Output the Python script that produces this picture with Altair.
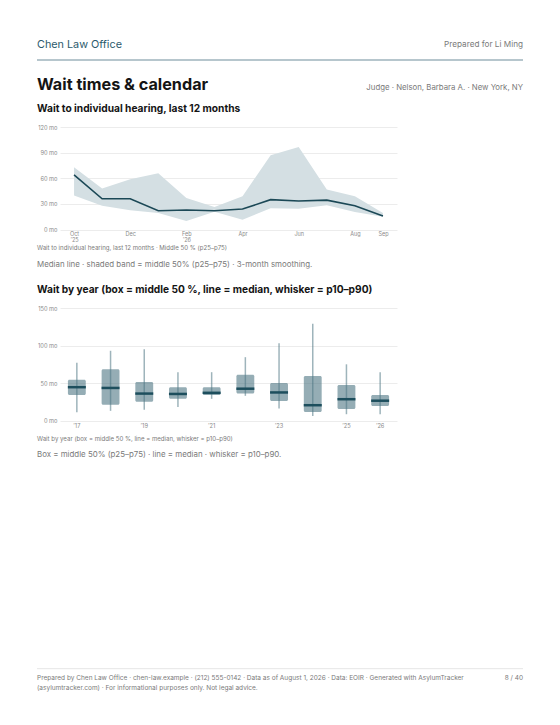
import altair as alt
import pandas as pd

# ---------------- data ----------------
months = ["Oct", "Nov", "Dec", "Jan", "Feb", "Mar", "Apr", "May", "Jun", "Jul", "Aug", "Sep"]
median_wait = [64, 36, 36, 22, 23, 22, 24, 35, 33.5, 34.5, 28, 16]
p25_wait = [40, 28, 22.5, 19.5, 10, 21, 11.5, 25, 24.5, 28.5, 20.5, 15]
p75_wait = [73, 48, 59, 66, 37, 26.5, 39, 87, 96.5, 47, 39, 19.5]
month_ticks = ["Oct", "Dec", "Feb", "Apr", "Jun", "Aug", "Sep"]

years = ["2017", "2018", "2019", "2020", "2021", "2022", "2023", "2024", "2025", "2026"]
yr_p10 = [11, 13, 14.5, 18, 29, 33, 16, 6, 8.5, 8.5]
yr_p25 = [34, 21, 25, 29, 34, 36, 26, 11.5, 15.5, 19.5]
yr_p50 = [44.5, 43.5, 36, 35.5, 37, 42.5, 37.5, 20.5, 28.5, 26.5]
yr_p75 = [54.5, 68.5, 51.5, 44.5, 44.5, 61, 50, 59.5, 47.5, 34]
yr_p90 = [77, 93, 95, 64.5, 64.5, 84.5, 103, 129, 75, 64.5]
year_ticks = ["2017", "2019", "2021", "2023", "2025", "2026"]

# ---------------- style ----------------
FONT = "Inter"
GRAY = "#7a7a7a"
DARK = "#141414"
TEAL = "#2b5a6b"
OX = 60          # page x of plot origin
W = 337          # plot width
TOP = 30         # page y of the header cell top

one = pd.DataFrame({"a": [0]})


def txt(s, px, py, top, size, color=GRAY, weight="normal", align="left"):
    return alt.Chart(one).mark_text(
        text=s, font=FONT, fontSize=size, color=color, fontWeight=weight,
        align=align, baseline="middle"
    ).encode(x=alt.value(px - OX), y=alt.value(py - top))


def hrule(px1, px2, py, top, color, width):
    return alt.Chart(one).mark_rule(color=color, strokeWidth=width).encode(
        x=alt.value(px1 - OX), x2=alt.value(px2 - OX), y=alt.value(py - top)
    )


axis_common = dict(
    domain=False, ticks=False, labelColor="#8a8a8a", labelFontSize=5.7,
    labelFont=FONT, title=None, labelOverlap=False,
)

# ---------------- cell A: header ----------------
A_TOP, A_H = TOP, 96.7
cellA = alt.layer(
    txt("Chen Law Office", 37, 45, A_TOP, 10.8, TEAL),
    txt("Prepared for Li Ming", 523, 45, A_TOP, 8.2, GRAY, align="right"),
    hrule(37, 523, 60, A_TOP, "#6f8d9b", 1.2),
    txt("Wait times & calendar", 37, 84.5, A_TOP, 16.2, DARK, "bold"),
    txt("Judge · Nelson, Barbara A. · New York, NY", 523, 88, A_TOP, 7.8, GRAY, align="right"),
    txt("Wait to individual hearing, last 12 months", 37, 109, A_TOP, 10.2, DARK, "bold"),
).properties(width=W, height=A_H)

# ---------------- cell B: monthly chart ----------------
B_H = 102.6
df1 = pd.DataFrame({"month": months, "median": median_wait, "p25": p25_wait, "p75": p75_wait})
label_expr_m = ("datum.value == 'Oct' ? ['Oct', \"\u201925\"] : "
                "datum.value == 'Feb' ? ['Feb', \"\u201926\"] : datum.value")
xm_axis = alt.Axis(values=month_ticks, labelExpr=label_expr_m, labelAngle=0,
                   labelPadding=1.5, labelLineHeight=6.6, labelFontSize=5.5,
                   grid=False, domain=False, ticks=False, labelColor="#8a8a8a",
                   labelFont=FONT, title=None, labelOverlap=False)
xm_scale = alt.Scale(type="point", padding=0.5)
ym_axis = alt.Axis(values=[0, 30, 60, 90, 120], labelExpr="datum.value + ' mo'",
                   gridColor="#ececec", labelPadding=3, **axis_common)
ym_scale = alt.Scale(domain=[0, 120], nice=False)

band = alt.Chart(df1).mark_area(color="#d4dfe3").encode(
    x=alt.X("month:O", sort=months, scale=xm_scale, axis=xm_axis),
    y=alt.Y("p25:Q", scale=ym_scale, axis=ym_axis),
    y2="p75:Q",
)
line = alt.Chart(df1).mark_line(color="#1b4856", strokeWidth=1.6).encode(
    x=alt.X("month:O", sort=months, scale=xm_scale, axis=xm_axis),
    y=alt.Y("median:Q", scale=ym_scale, axis=ym_axis),
)
cellB = alt.layer(band, line).properties(width=W, height=B_H)

# ---------------- cell C: captions ----------------
C_TOP, C_H = 229.3, 77.4
cellC = alt.layer(
    txt("Wait to individual hearing, last 12 months · Middle 50 % (p25–p75)", 37, 247.5, C_TOP, 6.1),
    txt("Median line · shaded band = middle 50% (p25–p75) · 3-month smoothing.", 37, 264, C_TOP, 7.9),
    txt("Wait by year (box = middle 50 %, line = median, whisker = p10–p90)", 37, 289, C_TOP, 10.2, DARK, "bold"),
).properties(width=W, height=C_H)

# ---------------- cell D: yearly box chart ----------------
D_H = 112.6
df2 = pd.DataFrame({"year": years, "p10": yr_p10, "p25": yr_p25, "p50": yr_p50,
                    "p75": yr_p75, "p90": yr_p90})
xy_scale = alt.Scale(paddingInner=0.47, paddingOuter=0.235)
xy_axis = alt.Axis(values=year_ticks, labelExpr="'\u2019' + substring(datum.value, 2, 4)",
                   labelAngle=0, labelPadding=2, grid=False, **axis_common)
yy_scale = alt.Scale(domain=[0, 150], nice=False)
yy_axis = alt.Axis(values=[0, 50, 100, 150], labelExpr="datum.value + ' mo'",
                   gridColor="#ececec", labelPadding=3, **axis_common)


def xy():
    return alt.X("year:N", sort=years, scale=xy_scale, axis=xy_axis)


def yy(field):
    return alt.Y(field, scale=yy_scale, axis=yy_axis)


whisk = alt.Chart(df2).mark_rule(color="#4f7684", opacity=0.55, strokeWidth=1.5).encode(
    x=xy(), y=yy("p10:Q"), y2="p90:Q")
box = alt.Chart(df2).mark_bar(color="#4f7684", opacity=0.6, cornerRadius=1.5).encode(
    x=xy(), y=yy("p25:Q"), y2="p75:Q")
med = alt.Chart(df2).mark_tick(color="#1d4e5d", thickness=2.5, size=18, opacity=1).encode(
    x=xy(), y=yy("p50:Q"))
cellD = alt.layer(whisk, box, med).properties(width=W, height=D_H)

# ---------------- cell E: captions + footer ----------------
E_TOP, E_H = 419.3, 280
cellE = alt.layer(
    txt("Wait by year (box = middle 50 %, line = median, whisker = p10–p90)", 37, 437, E_TOP, 6.1),
    txt("Box = middle 50% (p25–p75) · line = median · whisker = p10–p90.", 37, 453, E_TOP, 7.9),
    hrule(37, 523, 667, E_TOP, "#e6e6e6", 1),
    txt("Prepared by Chen Law Office · chen-law.example · (212) 555-0142 · Data as of August 1, 2026 · "
        "Data: EOIR · Generated with AsylumTracker", 37, 676, E_TOP, 6.5),
    txt("(asylumtracker.com) · For informational purposes only. Not legal advice.", 37, 686, E_TOP, 6.5),
    txt("8 / 40", 523, 676, E_TOP, 6.5, align="right"),
).properties(width=W, height=E_H)

chart = alt.vconcat(cellA, cellB, cellC, cellD, cellE, spacing=0, bounds="flush").properties(
    padding={"left": 28, "top": 22, "right": 10, "bottom": 8}
).configure(background="white").configure_view(stroke=None)

chart.save("out.html", embed_options={"renderer": "svg", "actions": False})
